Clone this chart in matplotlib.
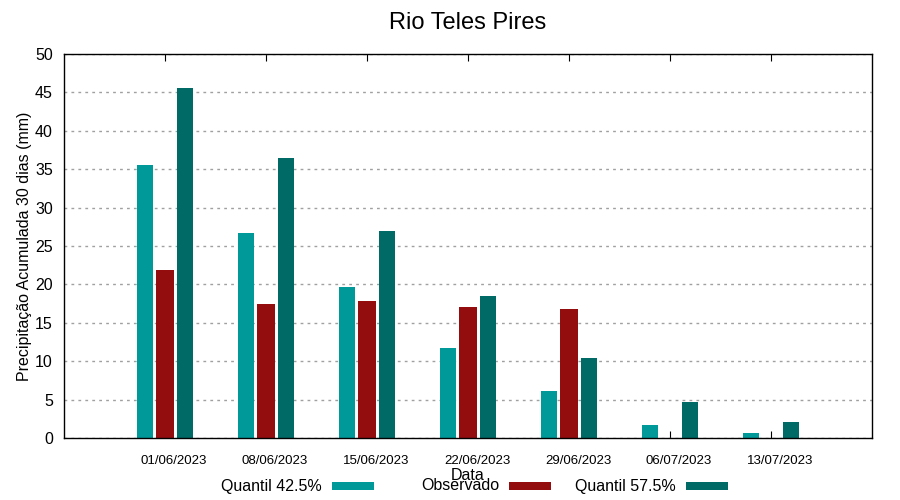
import numpy as np
import matplotlib.pyplot as plt
from matplotlib.patches import Rectangle

plt.rcParams['font.family'] = ['Liberation Sans', 'DejaVu Sans']

# Dados
datas = ['01/06/2023', '08/06/2023', '15/06/2023', '22/06/2023',
         '29/06/2023', '06/07/2023', '13/07/2023']
q425 = [35.5, 26.7, 19.7, 11.7, 6.1, 1.7, 0.65]
observado = [21.9, 17.4, 17.8, 17.1, 16.8, 0.0, 0.0]
q575 = [45.6, 36.5, 27.0, 18.5, 10.4, 4.7, 2.1]
series = ['Quantil 42.5%', 'Observado', 'Quantil 57.5%']

cor_q425 = '#009999'
cor_obs = '#930D0F'
cor_q575 = '#006A66'
cores = [cor_q425, cor_obs, cor_q575]

fig = plt.figure(figsize=(9, 5), dpi=100)
ax = fig.add_axes([64/900, 62/500, 808/900, 384/500])

x = np.arange(len(datas))
w = 0.16
ax.bar(x - 0.2, q425, w, color=cor_q425, zorder=3)
ax.bar(x, observado, w + 0.01, color=cor_obs, zorder=3)
ax.bar(x + 0.2, q575, w, color=cor_q575, zorder=3)

ax.set_xlim(-1.0, 7.0)
ax.set_ylim(0, 50)
ax.set_yticks(np.arange(0, 51, 5))
# marcas nos centros dos grupos, rotulos um pouco a direita (como no gnuplot)
ax.set_xticks(x)
ax.set_xticklabels([])
ax.set_xticks(x + 0.09, minor=True)
ax.set_xticklabels(datas, minor=True, fontsize=9.5)

ax.tick_params(axis='x', which='major', direction='in', length=5, top=True)
ax.tick_params(axis='x', which='minor', length=0, pad=12)
ax.tick_params(axis='y', direction='in', length=0, labelsize=11.5, pad=8)
ax.grid(axis='y', color='#a0a0a0', linestyle=(0, (2, 3)), linewidth=1, zorder=0)
for s in ax.spines.values():
    s.set_linewidth(1)
    s.set_zorder(4)

ax.set_title('Rio Teles Pires', fontsize=17, pad=18)
ax.set_ylabel('Precipitação Acumulada 30 dias (mm)', fontsize=11.5, labelpad=2)
ax.set_xlabel('Data', fontsize=11.5, labelpad=1)

# legenda estilo gnuplot: texto alinhado a direita e amostra depois
col_w = 177 / 900
x_txt = 322 / 900
y_leg = 1 - 486 / 500
for i, (nome, cor) in enumerate(zip(series, cores)):
    xt = x_txt + i * col_w
    fig.text(xt, y_leg, nome, ha='right', va='center', fontsize=11.5)
    fig.add_artist(Rectangle((xt + 10/900, y_leg - 4/500), 42/900, 8/500,
                             transform=fig.transFigure, color=cor, lw=0))

fig.savefig('out.png', dpi=100)
